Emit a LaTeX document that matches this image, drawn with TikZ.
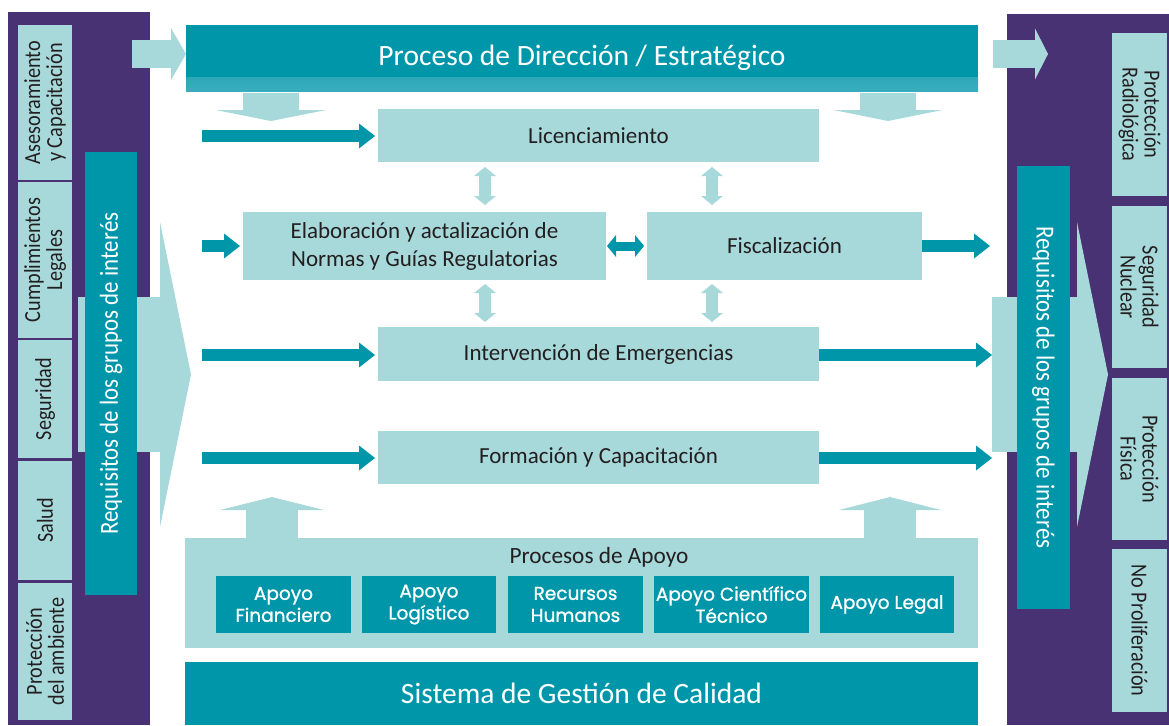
\documentclass[tikz,border=0pt]{standalone}
\usepackage{fontspec}
\setmainfont{Carlito}
\newfontfamily\sidefont{Carlito}[FakeStretch=0.88]
\newfontfamily\apoyofont{Poppins}[FakeBold=1]
\usetikzlibrary{arrows.meta}
\definecolor{panelpurple}{HTML}{483273}
\definecolor{regteal}{HTML}{0096AA}
\definecolor{lightteal}{HTML}{A7D9DB}
\definecolor{darktext}{HTML}{231F20}
\tikzset{
    panel-box/.style = {fill=panelpurple, inner sep=0pt, outer sep=0pt},
    light-box/.style = {fill=lightteal, text=darktext, inner sep=0pt, outer sep=0pt, align=center, font=\fontsize{23}{28}\selectfont},
    teal-box/.style = {fill=regteal, text=white, inner sep=0pt, outer sep=0pt, align=center},
    side-box/.style = {light-box, minimum height=54pt, font=\sidefont\fontsize{23}{22}\selectfont},
    apoyo-box/.style = {teal-box, minimum height=57pt, font=\apoyofont\fontsize{18.5}{22}\selectfont},
    flow-arrow/.style = {draw=regteal, line width=12pt, -{Triangle[width=25pt, length=16pt, line width=0pt]}},
    link-arrow/.style = {draw=lightteal, line width=12pt, {Triangle[width=22pt, length=9pt, line width=0pt]}-{Triangle[width=22pt, length=9pt, line width=0pt]}},
    block-arrow/.style n args = {3}{draw=lightteal, line width=#1, -{Triangle[width=#2, length=#3, line width=0pt]}},
}

\begin{document}
\begin{tikzpicture}[x=1pt, y=-1pt]
\useasboundingbox (0,0) rectangle (1169,725);

% side panels
\node[panel-box, minimum width=142pt, minimum height=713pt, anchor=north west] (left-panel) at (8,12) {};
\node[panel-box, minimum width=162pt, minimum height=711pt, anchor=north west] (right-panel) at (1007,14) {};

% big arrows behind the stakeholder bars
\coordinate (left-big) at (78,374.5);
\coordinate (left-big-tip) at (191,374.5);
\coordinate (right-big) at (992,374.5);
\coordinate (right-big-tip) at (1108,374.5);
\draw[block-arrow={155pt}{305pt}{31pt}] (left-big) -- (left-big-tip);
\draw[block-arrow={155pt}{305pt}{31pt}] (right-big) -- (right-big-tip);

\node[teal-box, rotate=90, minimum width=443pt, minimum height=52pt, font=\sidefont\fontsize{26}{28}\selectfont] (req-left) at (111,373.5) {Requisitos de los grupos de interés};
\node[teal-box, rotate=-90, minimum width=443pt, minimum height=53pt, font=\sidefont\fontsize{26}{28}\selectfont] (req-right) at (1043.5,387.5) {Requisitos de los grupos de interés};

% left inputs
\node[side-box, rotate=90, minimum width=155pt] (asesoria) at (45,102.5) {Asesoramiento\\y Capacitación};
\node[side-box, rotate=90, minimum width=156pt] (legales) at (45,260) {Cumplimientos\\Legales};
\node[side-box, rotate=90, minimum width=118pt] (seguridad) at (45,399) {Seguridad};
\node[side-box, rotate=90, minimum width=119pt] (salud) at (45,520.5) {Salud};
\node[side-box, rotate=90, minimum width=137pt] (ambiente) at (45,651.5) {Protección\\del ambiente};

% right outputs
\node[side-box, rotate=-90, minimum width=163pt, minimum height=55pt] (radiologica) at (1139.5,114.5) {Protección\\Radiológica};
\node[side-box, rotate=-90, minimum width=162pt, minimum height=55pt] (nuclear) at (1139.5,287) {Seguridad\\Nuclear};
\node[side-box, rotate=-90, minimum width=162pt, minimum height=55pt] (fisica) at (1139.5,459) {Protección\\Física};
\node[side-box, rotate=-90, minimum width=163pt, minimum height=55pt] (proliferacion) at (1139.5,630.5) {No Proliferación};

% strategic process
\node[teal-box, minimum width=792pt, minimum height=66pt, font=\fontsize{29.5}{32}\selectfont,
      path picture={\shade[top color=regteal, bottom color=regteal!78!white] ([yshift=14pt]path picture bounding box.south west) rectangle (path picture bounding box.south east);}] (direccion) at (582,58) {Proceso de Dirección / Estratégico};

\coordinate (dir-in) at (132,54);
\coordinate (dir-out) at (993,54);
\coordinate (dir-out-tip) at (1048,54);
\draw[block-arrow={27pt}{52pt}{15pt}] (dir-in) -- (dir-in -| direccion.west);
\draw[block-arrow={27pt}{51pt}{13pt}] (dir-out) -- (dir-out-tip);

\coordinate (down-left) at (271,93);
\coordinate (down-right) at (888,93);
\draw[block-arrow={56pt}{110pt}{11pt}] (down-left) -- ++(0,28);
\draw[block-arrow={56pt}{109pt}{11pt}] (down-right) -- ++(0,28);

% core processes
\node[light-box, minimum width=441pt, minimum height=53pt] (licencia) at (598.5,135.5) {Licenciamiento};
\node[light-box, minimum width=363pt, minimum height=68pt] (normas) at (424.5,246) {Elaboración y actalización de\\Normas y Guías Regulatorias};
\node[light-box, minimum width=275pt, minimum height=68pt] (fiscal) at (784.5,246) {Fiscalización};
\node[light-box, minimum width=441pt, minimum height=54pt] (emergencia) at (598.5,354) {Intervención de Emergencias};
\node[light-box, minimum width=441pt, minimum height=53pt] (formacion) at (598.5,457.5) {Formación y Capacitación};

\coordinate (in-licencia) at (202,136);
\coordinate (in-normas) at (202,246);
\coordinate (in-emergencia) at (202,355);
\coordinate (in-formacion) at (202,458);
\coordinate (out-fiscal) at (990,246);
\coordinate (out-emergencia) at (992,355);
\coordinate (out-formacion) at (992,458);
\draw[flow-arrow, shorten >=3pt] (in-licencia) -- (in-licencia -| licencia.west);
\draw[flow-arrow, shorten >=3pt] (in-normas) -- (normas.west);
\draw[flow-arrow, shorten >=3pt] (in-emergencia) -- (in-emergencia -| emergencia.west);
\draw[flow-arrow, shorten >=3pt] (in-formacion) -- (in-formacion -| formacion.west);
\draw[flow-arrow] (fiscal.east) -- (out-fiscal);
\draw[flow-arrow] (out-emergencia -| emergencia.east) -- (out-emergencia);
\draw[flow-arrow] (out-formacion -| formacion.east) -- (out-formacion);

\coordinate (link-left) at (485,0);
\coordinate (link-right) at (712,0);
\draw[link-arrow, shorten <=5pt, shorten >=7pt] (link-left |- licencia.south) -- (link-left |- normas.north);
\draw[link-arrow, shorten <=5pt, shorten >=7pt] (link-right |- licencia.south) -- (link-right |- fiscal.north);
\draw[link-arrow, shorten <=4pt, shorten >=5pt] (link-left |- normas.south) -- (link-left |- emergencia.north);
\draw[link-arrow, shorten <=4pt, shorten >=5pt] (link-right |- fiscal.south) -- (link-right |- emergencia.north);
\draw[link-arrow, draw=regteal, line width=9pt, shorten <=1pt, shorten >=3pt] (normas.east) -- (fiscal.west);

% support processes
\node[light-box, minimum width=793pt, minimum height=110pt] (apoyo) at (581.5,593) {};
\node[text=darktext, font=\fontsize{23.3}{26}\selectfont] (apoyo-title) at (599,557) {Procesos de Apoyo};
\node[apoyo-box, minimum width=135pt] (financiero) at (283.5,604.5) {Apoyo\\Financiero};
\node[apoyo-box, minimum width=134pt] (logistico) at (429,604.5) {Apoyo\\Logístico};
\node[apoyo-box, minimum width=135pt] (humanos) at (575.5,604.5) {Recursos\\Humanos};
\node[apoyo-box, minimum width=155pt] (cientifico) at (731.5,604.5) {Apoyo Científico\\Técnico};
\node[apoyo-box, minimum width=134pt] (legal) at (887,604.5) {Apoyo Legal};

\coordinate (up-left) at (272,0);
\coordinate (up-right) at (890,0);
\draw[block-arrow={52pt}{104pt}{13pt}] (up-left |- apoyo.north) -- ++(0,-41);
\draw[block-arrow={52pt}{102pt}{13pt}] (up-right |- apoyo.north) -- ++(0,-41);

% quality system
\node[teal-box, minimum width=793pt, minimum height=63pt, font=\fontsize{29.5}{32}\selectfont] (calidad) at (581.5,693.5) {Sistema de Gestión de Calidad};
\end{tikzpicture}
\end{document}
